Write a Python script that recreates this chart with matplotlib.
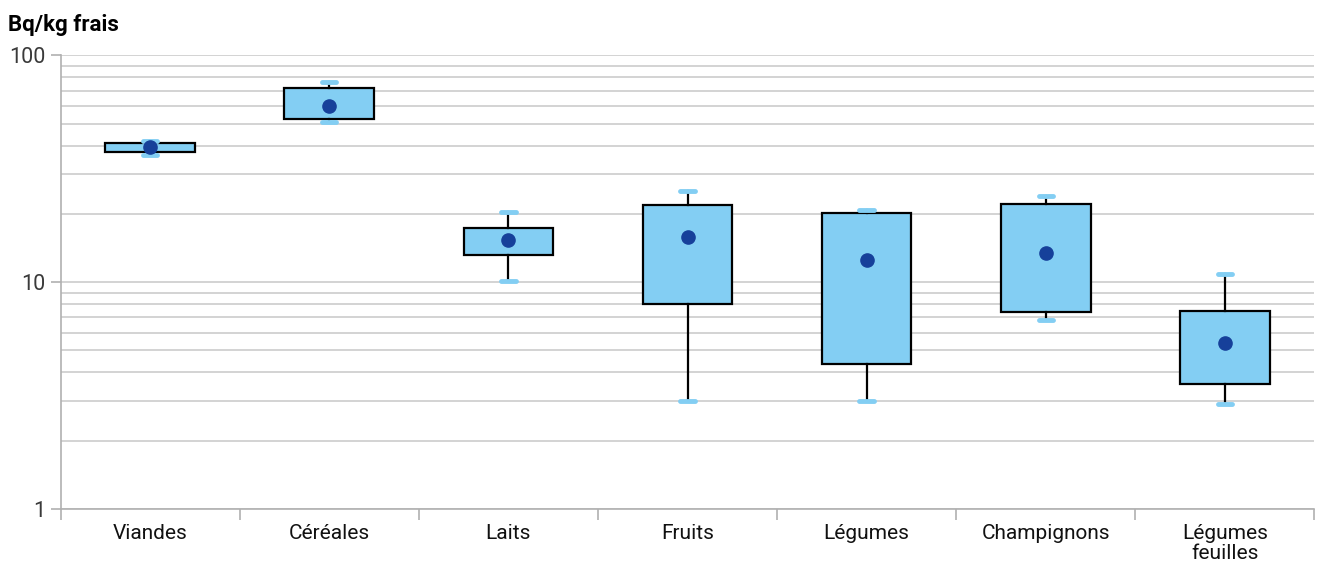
import matplotlib.pyplot as plt
from matplotlib.ticker import LogLocator, NullFormatter, FixedLocator

plt.rcParams['font.family'] = ['Roboto', 'DejaVu Sans']

# Bq/kg frais per food group
categories = ['Viandes', 'Céréales', 'Laits', 'Fruits', 'Légumes',
              'Champignons', 'Légumes\nfeuilles']
whisk_low = [36.5, 50.7, 10.1, 3.0, 3.0, 6.8, 2.9]
q1 = [37.5, 52.3, 13.2, 8.0, 4.35, 7.4, 3.55]
q3 = [41.2, 71.6, 17.3, 22.0, 20.2, 22.1, 7.5]
whisk_high = [42.0, 76.0, 20.5, 25.2, 20.8, 23.9, 10.9]
means = [39.3, 59.6, 15.3, 15.9, 12.5, 13.4, 5.4]

BOX = '#83CEF3'
DOT = '#16409A'
GRID = '#cccccc'

stats = []
for lab, lo, a, b, hi, m in zip(categories, whisk_low, q1, q3, whisk_high, means):
    stats.append({'label': lab, 'whislo': lo, 'q1': a, 'med': a, 'q3': b,
                  'whishi': hi, 'mean': m, 'fliers': []})

fig = plt.figure(figsize=(13.22, 5.66), dpi=100)
ax = fig.add_axes([0.0458, 0.1007, 0.9485, 0.8013])

ax.bxp(stats, positions=range(len(stats)), widths=0.5, patch_artist=True,
       showmeans=True, showfliers=False, capwidths=0.08,
       boxprops=dict(facecolor=BOX, edgecolor='black', linewidth=1.6),
       whiskerprops=dict(color='black', linewidth=1.6),
       capprops=dict(color=BOX, linewidth=3.5, solid_capstyle='round'),
       medianprops=dict(linewidth=0),
       meanprops=dict(marker='o', markerfacecolor=DOT, markeredgecolor=DOT,
                      markersize=9.5))

ax.set_yscale('log')
ax.set_ylim(1, 100)
ax.set_xlim(-0.5, len(categories) - 0.5)
ax.yaxis.set_major_locator(FixedLocator([1, 10, 100]))
ax.yaxis.set_major_formatter(plt.FuncFormatter(lambda v, p: f'{v:g}'))
ax.yaxis.set_minor_locator(LogLocator(base=10, subs=range(2, 10)))
ax.yaxis.set_minor_formatter(NullFormatter())
ax.grid(axis='y', which='both', color=GRID, linewidth=1.2)
ax.set_axisbelow(True)

# category labels centred, separator ticks between groups
ax.set_xticks(range(len(categories)))
ax.set_xticklabels(categories, fontsize=15, color='#111111', linespacing=1.05)
ax.tick_params(axis='x', which='major', length=0, pad=11)
ax.set_xticks([i - 0.5 for i in range(len(categories) + 1)], minor=True)
ax.tick_params(axis='x', which='minor', length=8, color='#b0b0b0', width=1.2)
ax.tick_params(axis='y', which='major', length=7, color='#b0b0b0', width=1.2,
               labelsize=15.5, labelcolor='#3a3a3a', pad=4)
ax.tick_params(axis='y', which='minor', length=0)

for side in ['top', 'right']:
    ax.spines[side].set_visible(False)
for side in ['left', 'bottom']:
    ax.spines[side].set_color('#b0b0b0')
    ax.spines[side].set_linewidth(1.2)

fig.text(0.006, 0.955, 'Bq/kg frais', fontsize=16, fontweight='bold',
         ha='left', va='center')

fig.savefig('out.png', dpi=100)
